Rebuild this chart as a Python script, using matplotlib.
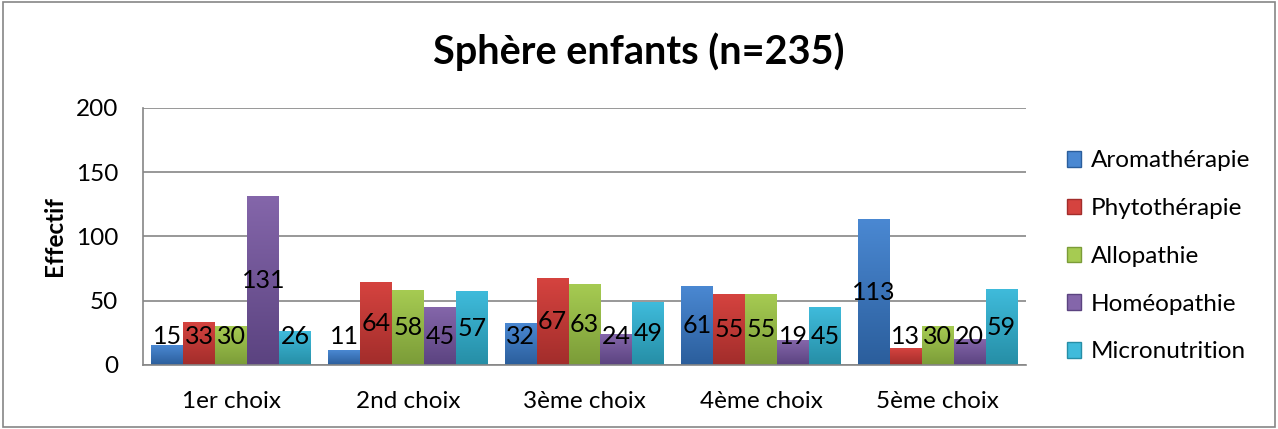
import numpy as np
import matplotlib.pyplot as plt
from matplotlib.colors import LinearSegmentedColormap
from matplotlib.patches import Rectangle

plt.rcParams['font.family'] = ['Lato', 'DejaVu Sans']

categories = ['1er choix', '2nd choix', '3ème choix', '4ème choix', '5ème choix']
series = ['Aromathérapie', 'Phytothérapie', 'Allopathie', 'Homéopathie', 'Micronutrition']
aroma = [15, 11, 32, 61, 113]
phyto = [33, 64, 67, 55, 13]
allo = [30, 58, 63, 55, 30]
homeo = [131, 45, 24, 19, 20]
micro = [26, 57, 49, 45, 59]
values = [aroma, phyto, allo, homeo, micro]

# top / bottom colours of each bar gradient
tops = ['#4a88d2', '#d5433f', '#a6cb52', '#8466aa', '#3fbbdb']
bottoms = ['#2b5e9c', '#a22d2b', '#7b9c38', '#5b4380', '#268ea6']

fig = plt.figure(figsize=(12.78, 4.29), dpi=100)
ax = fig.add_axes([0.1119, 0.1492, 0.6909, 0.5991])

x = np.arange(len(categories))
n = len(series)
w = 0.181
grad = np.linspace(0, 1, 100).reshape(-1, 1)
for i, vals in enumerate(values):
    cmap = LinearSegmentedColormap.from_list('g%d' % i, [bottoms[i], tops[i]])
    pos = x - (n - 1) / 2 * w + i * w
    bars = ax.bar(pos, vals, width=w, color='none', edgecolor='none')
    for b, v in zip(bars, vals):
        bx, bw, bh = b.get_x(), b.get_width(), b.get_height()
        ax.imshow(grad, extent=[bx, bx + bw, 0, bh], origin='lower', cmap=cmap,
                  aspect='auto', zorder=2, interpolation='bicubic')
        ax.text(bx + bw / 2, max(v / 2, 22.5), str(v), ha='center', va='center',
                fontsize=18, color='black', zorder=4)

ax.set_xlim(-0.5, len(categories) - 0.5)
ax.set_ylim(0, 200)
ax.set_yticks([0, 50, 100, 150, 200])
ax.set_xticks(x)
ax.set_xticklabels(categories, fontsize=17.5)
ax.tick_params(axis='y', labelsize=17.5, length=0, pad=18)
ax.tick_params(axis='x', length=0, pad=19)
ax.yaxis.grid(True, color='#868686', linewidth=1.2, zorder=0)
ax.set_axisbelow(True)
for s in ['top', 'right']:
    ax.spines[s].set_visible(False)
for s in ['left', 'bottom']:
    ax.spines[s].set_color('#868686')
    ax.spines[s].set_linewidth(1.2)
ax.set_ylabel('Effectif', fontsize=17.5, fontweight='bold', labelpad=7)

fig.text(0.5, 0.88, 'Sphère enfants (n=235)', ha='center', va='center',
         fontsize=28.5, fontweight='bold')

handles = [Rectangle((0, 0), 1, 1, facecolor=tops[i], edgecolor=bottoms[i]) for i in range(n)]
fig.legend(handles, series, loc='upper left', bbox_to_anchor=(0.827, 0.672),
           frameon=False, fontsize=17.5, handlelength=0.6, handleheight=0.6,
           handletextpad=0.4, labelspacing=1.1, borderaxespad=0)

fig.patches.append(Rectangle((0.002, 0.004), 0.996, 0.992, transform=fig.transFigure,
                             fill=False, edgecolor='#868686', linewidth=1.2))

fig.savefig('out.png', dpi=100)
